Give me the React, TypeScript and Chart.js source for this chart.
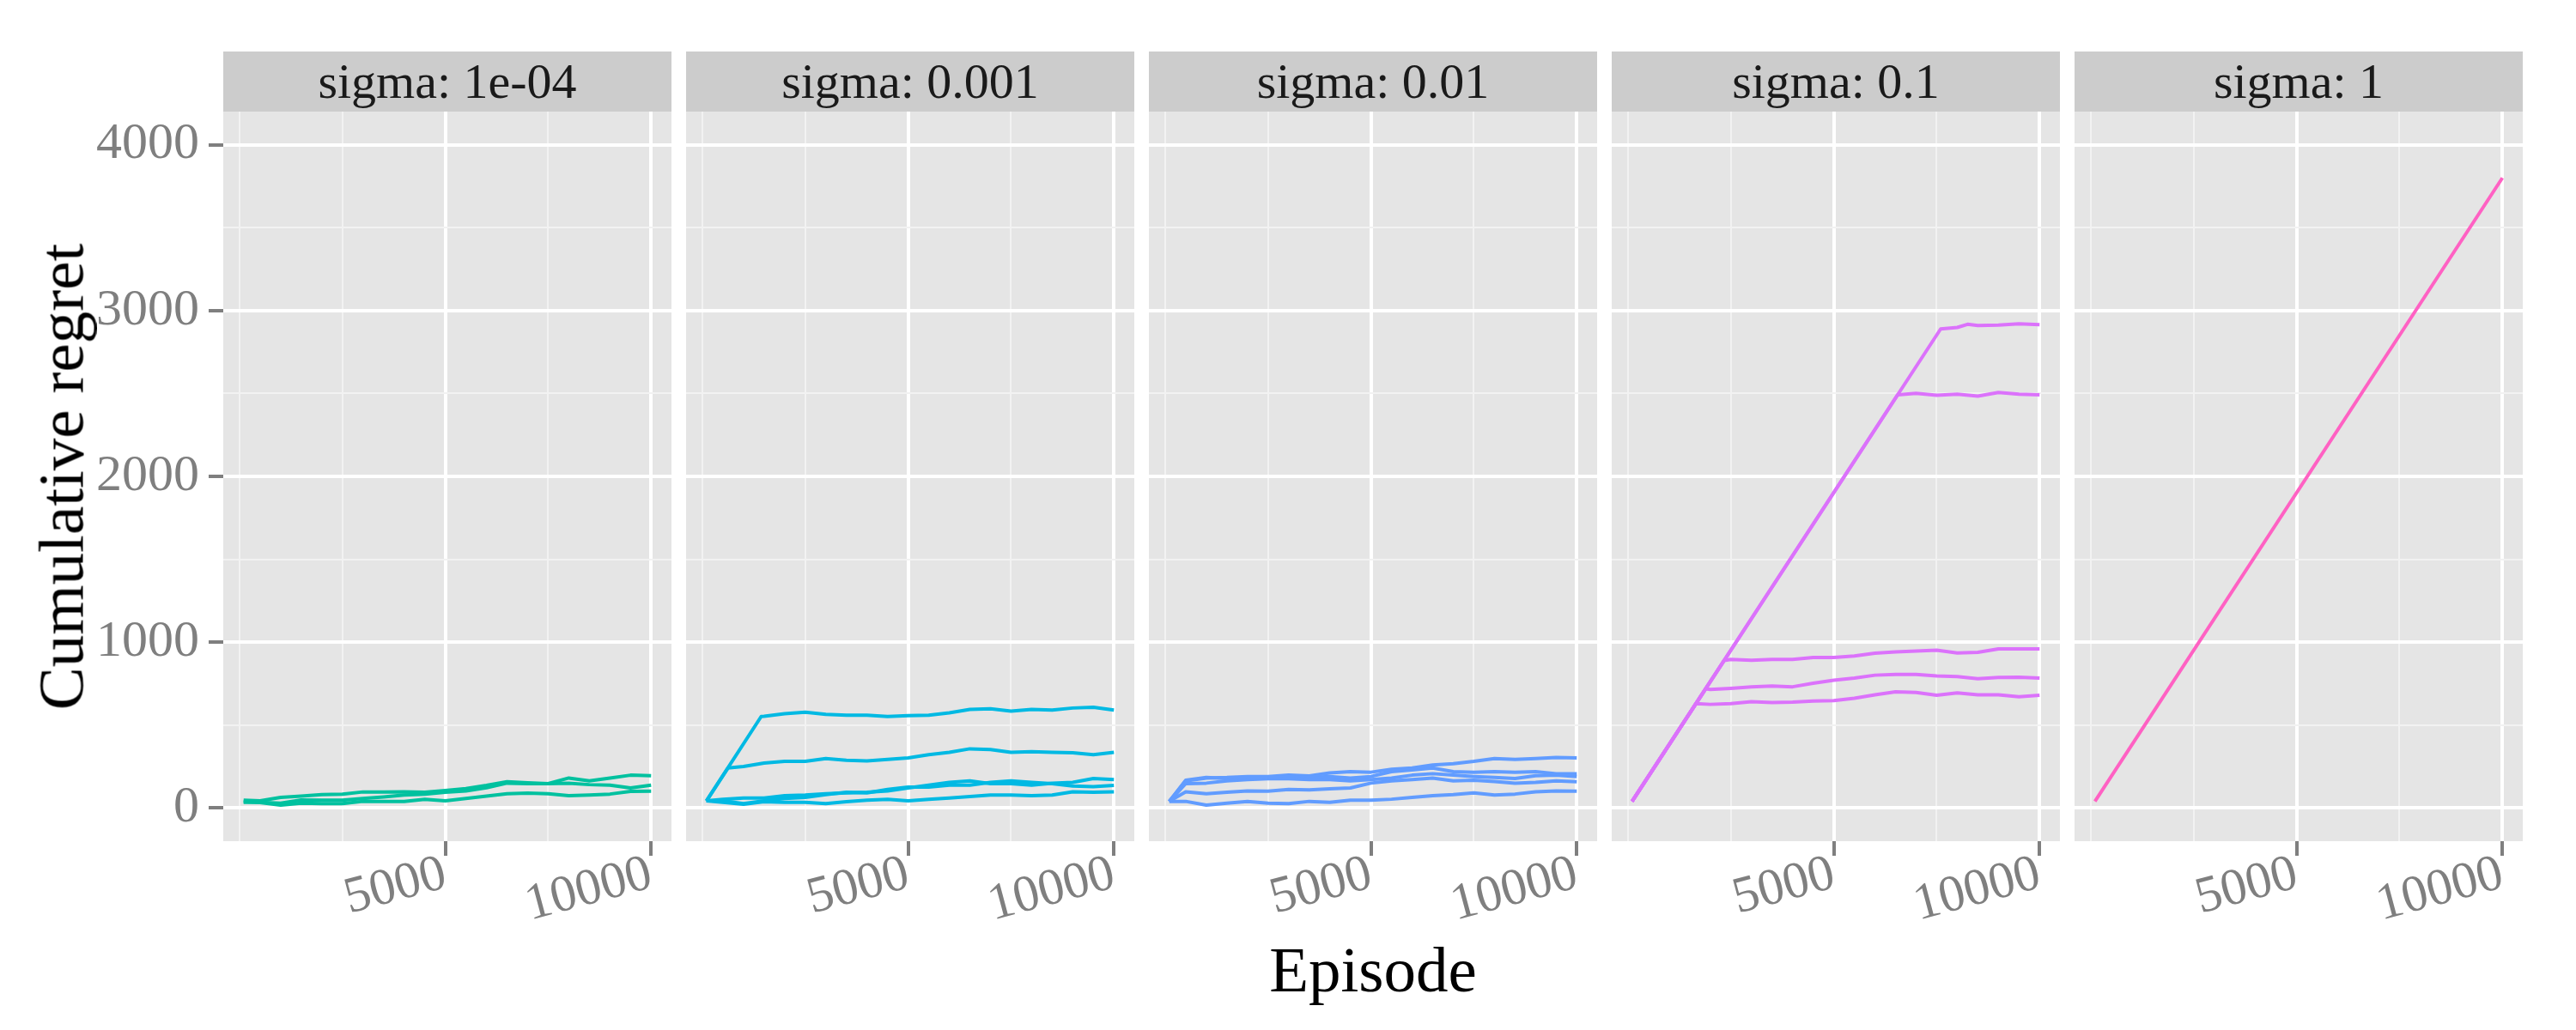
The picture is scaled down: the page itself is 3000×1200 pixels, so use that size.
import React, { useEffect, useRef } from 'react'
import { Chart, registerables } from 'chart.js'
import type { Plugin, ScriptableScaleContext } from 'chart.js'

Chart.register(...registerables)

type Run = [number, number][]

// facets
const facetLabels = ['sigma: 1e-04', 'sigma: 0.001', 'sigma: 0.01', 'sigma: 0.1', 'sigma: 1']
const facetColors = ['#00C19F', '#00B9E3', '#619CFF', '#DB72FB', '#FF61C3']

// axis breaks (major ones get a label, the rest are minor grid lines)
const xBreaks = [0, 2500, 5000, 7500, 10000]
const xLabelled = [5000, 10000]
const yBreaks = [0, 500, 1000, 1500, 2000, 2500, 3000, 3500, 4000]
const yLabelled = [0, 1000, 2000, 3000, 4000]
const xRange = [-395, 10495]
const yRange = [-200, 4200]

// sigma 1e-04: runs sampled at the same episodes
const episodes = [100, 500, 1000, 1500, 2000, 2500, 3000, 3500, 4000, 4500, 5000, 5500, 6000, 6500, 7000, 7500, 8000, 8500, 9000, 9500, 10000]
const sigma1e4RunA = [47, 43, 64, 72, 81, 83, 97, 97, 98, 95, 105, 117, 136, 159, 152, 147, 181, 164, 181, 198, 195]
const sigma1e4RunB = [34, 34, 29, 48, 47, 47, 57, 67, 78, 84, 95, 103, 122, 150, 147, 147, 150, 141, 138, 121, 138]
const sigma1e4RunC = [40, 33, 17, 29, 26, 26, 40, 40, 40, 52, 43, 57, 72, 86, 90, 86, 74, 78, 84, 100, 102]

// sigma 0.001: [episode, regret]
const sigma001Run1: Run = [[100, 43], [1430, 552], [1500, 553], [2000, 569], [2500, 578], [3000, 565], [3500, 560], [4000, 560], [4500, 552], [5000, 557], [5500, 560], [6000, 574], [6500, 595], [7000, 598], [7500, 584], [8000, 595], [8500, 591], [9000, 603], [9500, 607], [10000, 591]]
const sigma001Run2: Run = [[100, 43], [621, 241], [1000, 250], [1500, 271], [2000, 281], [2500, 281], [3000, 298], [3500, 288], [4000, 284], [4500, 293], [5000, 302], [5500, 322], [6000, 336], [6500, 357], [7000, 353], [7500, 336], [8000, 340], [8500, 336], [9000, 333], [9500, 322], [10000, 336]]
const sigma001Run3: Run = [[100, 43], [500, 52], [1000, 60], [1500, 60], [2000, 74], [2500, 78], [3000, 86], [3500, 91], [4000, 95], [4500, 103], [5000, 121], [5500, 138], [6000, 155], [6500, 164], [7000, 147], [7500, 147], [8000, 138], [8500, 150], [9000, 155], [9500, 178], [10000, 172]]
const sigma001Run4: Run = [[100, 43], [500, 43], [1000, 26], [1500, 43], [2000, 57], [2500, 64], [3000, 81], [3500, 95], [4000, 91], [4500, 112], [5000, 126], [5500, 126], [6000, 138], [6500, 138], [7000, 155], [7500, 164], [8000, 155], [8500, 147], [9000, 133], [9500, 129], [10000, 136]]
const sigma001Run5: Run = [[100, 43], [500, 34], [1000, 22], [1500, 38], [2000, 34], [2500, 34], [3000, 26], [3500, 38], [4000, 47], [4500, 52], [5000, 43], [5500, 52], [6000, 60], [6500, 69], [7000, 78], [7500, 78], [8000, 74], [8500, 78], [9000, 98], [9500, 95], [10000, 98]]

// sigma 0.01
const sigma01Run1: Run = [[100, 40], [500, 164], [1000, 181], [1500, 184], [2000, 190], [2500, 190], [3000, 198], [3500, 193], [4000, 212], [4500, 219], [5000, 216], [5500, 233], [6000, 241], [6500, 259], [7000, 267], [7500, 281], [8000, 298], [8500, 293], [9000, 298], [9500, 305], [10000, 302]]
const sigma01Run2: Run = [[100, 40], [500, 167], [1000, 184], [1500, 178], [2000, 181], [2500, 184], [3000, 190], [3500, 184], [4000, 190], [4500, 181], [5000, 190], [5500, 219], [6000, 229], [6500, 241], [7000, 219], [7500, 216], [8000, 219], [8500, 216], [9000, 219], [9500, 207], [10000, 207]]
const sigma01Run3: Run = [[100, 40], [500, 147], [1000, 150], [1500, 164], [2000, 172], [2500, 176], [3000, 176], [3500, 172], [4000, 172], [4500, 164], [5000, 172], [5500, 181], [6000, 198], [6500, 207], [7000, 198], [7500, 190], [8000, 184], [8500, 178], [9000, 195], [9500, 198], [10000, 190]]
const sigma01Run4: Run = [[100, 40], [500, 98], [1000, 86], [1500, 95], [2000, 103], [2500, 102], [3000, 112], [3500, 109], [4000, 116], [4500, 121], [5000, 150], [5500, 164], [6000, 172], [6500, 181], [7000, 164], [7500, 167], [8000, 160], [8500, 150], [9000, 155], [9500, 164], [10000, 159]]
const sigma01Run5: Run = [[100, 40], [500, 40], [1000, 17], [1500, 29], [2000, 40], [2500, 29], [3000, 26], [3500, 40], [4000, 34], [4500, 47], [5000, 47], [5500, 53], [6000, 64], [6500, 74], [7000, 81], [7500, 91], [8000, 78], [8500, 84], [9000, 98], [9500, 103], [10000, 102]]

// sigma 0.1: linear climb, then each run levels off
const sigma1Run1: Run = [[100, 40], [1653, 630], [2000, 625], [2500, 630], [3000, 641], [3500, 636], [4000, 638], [4500, 645], [5000, 648], [5500, 662], [6000, 683], [6500, 701], [7000, 697], [7500, 680], [8000, 694], [8500, 683], [9000, 683], [9500, 671], [10000, 680]]
const sigma1Run2: Run = [[100, 40], [1889, 719], [2000, 715], [2500, 722], [3000, 731], [3500, 736], [4000, 731], [4500, 752], [5000, 771], [5500, 783], [6000, 801], [6500, 805], [7000, 805], [7500, 796], [8000, 792], [8500, 780], [9000, 787], [9500, 789], [10000, 783]]
const sigma1Run3: Run = [[100, 40], [2337, 890], [2500, 896], [3000, 891], [3500, 896], [4000, 896], [4500, 908], [5000, 908], [5500, 917], [6000, 934], [6500, 942], [7000, 947], [7500, 952], [8000, 935], [8500, 939], [9000, 960], [9500, 960], [10000, 960]]
const sigma1Run4: Run = [[100, 40], [6553, 2492], [7000, 2501], [7500, 2489], [8000, 2496], [8500, 2484], [9000, 2506], [9500, 2496], [10000, 2492]]
const sigma1Run5: Run = [[100, 40], [7597, 2889], [8000, 2898], [8250, 2917], [8500, 2910], [9000, 2912], [9500, 2920], [10000, 2915]]

// sigma 1: all runs on the same line
const sigmaOneRun: Run = [[100, 40], [10000, 3800]]

const facetRuns: Run[][] = [
  [sigma1e4RunA, sigma1e4RunB, sigma1e4RunC].map((vals) => vals.map((v, i) => [episodes[i], v] as [number, number])),
  [sigma001Run1, sigma001Run2, sigma001Run3, sigma001Run4, sigma001Run5],
  [sigma01Run1, sigma01Run2, sigma01Run3, sigma01Run4, sigma01Run5],
  [sigma1Run1, sigma1Run2, sigma1Run3, sigma1Run4, sigma1Run5],
  [sigmaOneRun],
]

const FONT = 'Liberation Serif'
const PANEL_LEFT = [260, 799, 1338, 1877, 2416]
const PANEL_W = 522
const PANEL_TOP = 130
const PANEL_H = 850
const X_AXIS_H = 150
const Y_AXIS_W = 160

const panelBackground: Plugin<'line'> = {
  id: 'panelBackground',
  beforeDraw(chart) {
    const { ctx, chartArea } = chart
    ctx.save()
    ctx.fillStyle = '#E5E5E5'
    ctx.fillRect(chartArea.left, chartArea.top, chartArea.right - chartArea.left, chartArea.bottom - chartArea.top)
    ctx.restore()
  },
}

const isMajor = (ctx: ScriptableScaleContext, labelled: number[]) => labelled.includes(ctx.tick?.value)

function Facet({ index }: { index: number }) {
  const chartRef = useRef<HTMLCanvasElement>(null)
  const showY = index === 0

  useEffect(() => {
    if (!chartRef.current) return
    const color = facetColors[index]
    const chart = new Chart(chartRef.current, {
      type: 'line',
      data: {
        datasets: facetRuns[index].map((run, i) => ({
          label: `run ${i + 1}`,
          data: run.map(([x, y]) => ({ x, y })),
          borderColor: color,
          borderWidth: 4,
          pointRadius: 0,
          tension: 0,
          fill: false,
          borderJoinStyle: 'round' as const,
        })),
      },
      options: {
        animation: false,
        responsive: true,
        maintainAspectRatio: false,
        layout: { padding: 0 },
        plugins: { legend: { display: false }, tooltip: { enabled: false } },
        scales: {
          x: {
            type: 'linear',
            min: xRange[0],
            max: xRange[1],
            afterBuildTicks: (s) => { s.ticks = xBreaks.map((value) => ({ value })) },
            afterFit: (s) => { s.height = X_AXIS_H; s.paddingLeft = 0; s.paddingRight = 0 },
            ticks: {
              autoSkip: false,
              minRotation: 15,
              maxRotation: 15,
              padding: -14,
              color: '#7F7F7F',
              font: { family: FONT, size: 60 },
              callback: (v) => (xLabelled.includes(Number(v)) ? String(v) : ''),
            },
            grid: {
              color: (c) => (isMajor(c, xLabelled) ? '#FFFFFF' : '#F2F2F2'),
              lineWidth: (c) => (isMajor(c, xLabelled) ? 4 : 2),
              tickColor: (c) => (isMajor(c, xLabelled) ? '#7F7F7F' : 'rgba(0,0,0,0)'),
              tickLength: 17,
              tickWidth: 4,
            },
            border: { display: false },
          },
          y: {
            type: 'linear',
            min: yRange[0],
            max: yRange[1],
            afterBuildTicks: (s) => { s.ticks = yBreaks.map((value) => ({ value })) },
            afterFit: (s) => { s.width = showY ? Y_AXIS_W : 0; s.paddingTop = 0; s.paddingBottom = 0 },
            ticks: {
              display: showY,
              autoSkip: false,
              padding: 11,
              color: '#7F7F7F',
              font: { family: FONT, size: 60 },
              callback: (v) => (yLabelled.includes(Number(v)) ? String(v) : ''),
            },
            grid: {
              color: (c) => (isMajor(c, yLabelled) ? '#FFFFFF' : '#F2F2F2'),
              lineWidth: (c) => (isMajor(c, yLabelled) ? 4 : 2),
              drawTicks: showY,
              tickColor: (c) => (isMajor(c, yLabelled) ? '#7F7F7F' : 'rgba(0,0,0,0)'),
              tickLength: 17,
              tickWidth: 4,
            },
            border: { display: false },
          },
        },
      },
      plugins: [panelBackground],
    })
    return () => chart.destroy()
  }, [index, showY])

  const left = PANEL_LEFT[index] - (showY ? Y_AXIS_W : 0)
  return (
    <div style={{ position: 'absolute', left, top: PANEL_TOP, width: PANEL_W + (showY ? Y_AXIS_W : 0), height: PANEL_H + X_AXIS_H }}>
      <canvas ref={chartRef} />
    </div>
  )
}

export default function App() {
  return (
    <div style={{ position: 'absolute', left: 0, top: 0, width: 3000, height: 1200, background: '#FFFFFF', overflow: 'hidden', fontFamily: FONT }}>
      {facetLabels.map((label, i) => (
        <Facet key={label} index={i} />
      ))}
      {facetLabels.map((label, i) => (
        <div
          key={`strip-${label}`}
          style={{
            position: 'absolute', left: PANEL_LEFT[i], top: 60, width: PANEL_W, height: 70,
            background: '#CCCCCC', color: '#1A1A1A', fontSize: 58, lineHeight: '70px', textAlign: 'center', whiteSpace: 'nowrap',
          }}
        >
          {label}
        </div>
      ))}
      <div style={{ position: 'absolute', left: 260, top: 1092, width: 2678, height: 75, fontSize: 75, lineHeight: '75px', textAlign: 'center', color: '#000' }}>
        Episode
      </div>
      <div
        style={{
          position: 'absolute', left: 70.5 - 425, top: 555 - 37.5, width: 850, height: 75, fontSize: 75, lineHeight: '75px',
          textAlign: 'center', color: '#000', transform: 'rotate(-90deg)', whiteSpace: 'nowrap',
        }}
      >
        Cumulative regret
      </div>
    </div>
  )
}
